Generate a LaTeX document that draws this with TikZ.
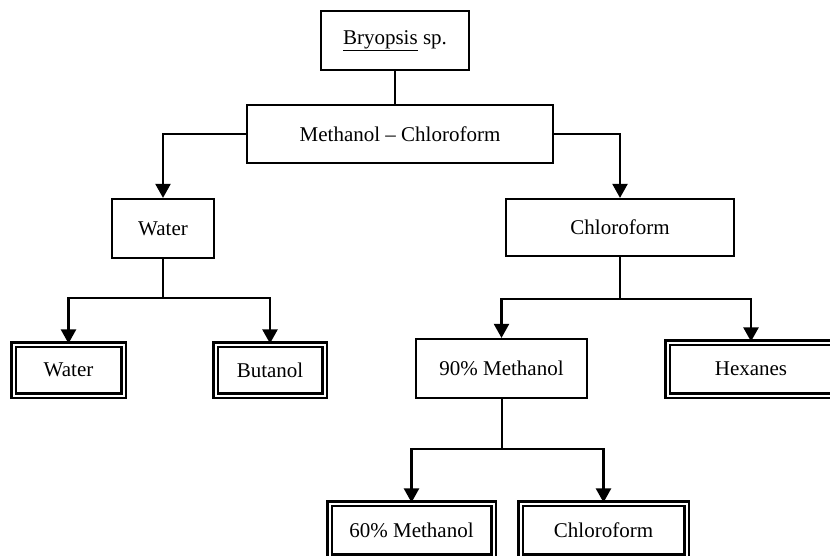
\documentclass[tikz,border=0pt]{standalone}
\usepackage{fontspec}
\setmainfont{Liberation Serif}
\usetikzlibrary{arrows.meta}

\tikzset{
  box/.style={draw, line width=2.2pt, inner sep=0pt, font=\fontsize{21}{25}\selectfont},
  endbox/.style={draw, double, double distance=2pt, line width=2.1pt, inner sep=0pt, font=\fontsize{21}{25}\selectfont},
  pfeil/.style={line width=2.2pt, -{Triangle[width=15pt,length=14pt]}},
  linie/.style={line width=2.2pt}
}

\begin{document}
\begin{tikzpicture}[x=1pt,y=-1pt] % 1pt = 1px, y nach unten
\useasboundingbox (0,0) rectangle (830,555);

%EBENE NR. 0 (von oben)
\node [box, minimum width=148pt, minimum height=59pt] (bryo) at (395,40.5) {\underline{Bryopsis} sp.};

%EBENE NR. 1 (von oben)
\node [box, minimum width=306pt, minimum height=58pt] (methchl) at (400,134) {Methanol -- Chloroform};
\draw [linie] (bryo.south) -- (bryo.south |- methchl.north);

%EBENE NR. 2 (von oben)
\node [box, minimum width=102pt, minimum height=59pt] (water) at (163,228.5) {Water};
\node [box, minimum width=228pt, minimum height=57pt] (chlor) at (620,227.5) {Chloroform};
\draw [pfeil] (methchl.west) -| (water.north);
\draw [pfeil] (methchl.east) -| (chlor.north);

%EBENE NR. 3 (von oben)
\node [endbox, minimum width=110pt, minimum height=51pt] (waterend) at (68.5,370) {Water};
\node [endbox, minimum width=109pt, minimum height=51pt] (butanol) at (270,370) {Butanol};
\node [box, minimum width=171pt, minimum height=59pt] (meth90) at (501.5,368.5) {90\% Methanol};
\node [endbox, minimum width=167pt, minimum height=53pt] (hexanes) at (751,369) {Hexanes};

\coordinate (wsplit) at (163,298);
\draw [linie] (water.south) -- (wsplit);
\draw [pfeil] (wsplit) -| (waterend.north);
\draw [pfeil] (wsplit) -| (butanol.north);

\coordinate (csplit) at (620,299);
\draw [linie] (chlor.south) -- (csplit);
\draw [pfeil] (csplit) -| (meth90.north);
\draw [pfeil] (csplit) -| (hexanes.north);

%EBENE NR. 4 (von oben)
\node [endbox, minimum width=164pt, minimum height=53pt] (meth60) at (411.5,530) {60\% Methanol};
\node [endbox, minimum width=166pt, minimum height=53pt] (chlorend) at (603.5,530) {Chloroform};

\coordinate (msplit) at (502,449);
\draw [linie] (meth90.south -| msplit) -- (msplit);
\draw [pfeil] (msplit) -| (meth60.north);
\draw [pfeil] (msplit) -| (chlorend.north);

\end{tikzpicture}
\end{document}
